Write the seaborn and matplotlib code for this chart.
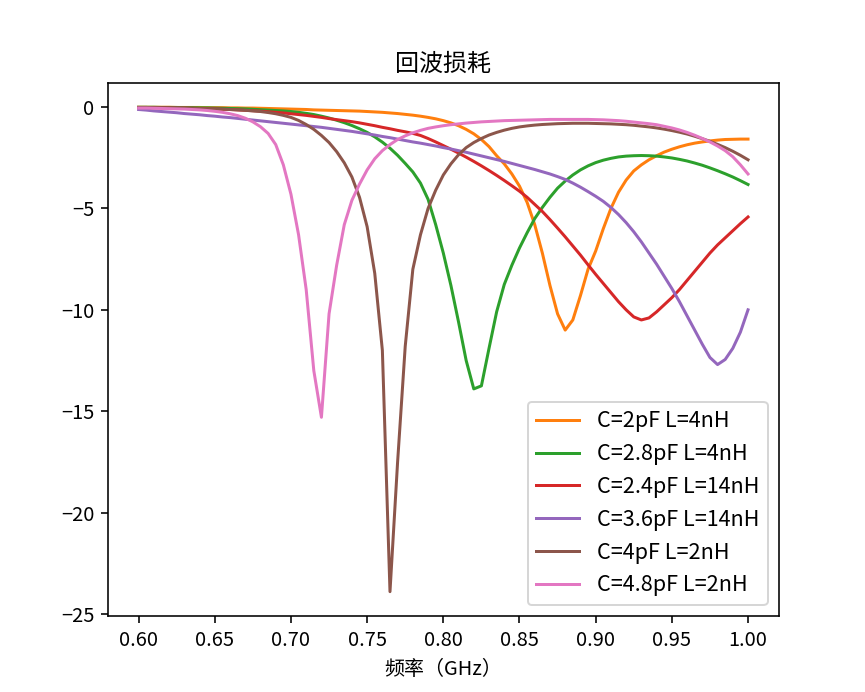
import numpy as np
import pandas as pd
import seaborn as sns
import matplotlib
matplotlib.use("Agg")
import matplotlib.pyplot as plt

plt.rcParams['font.family'] = ['Noto Sans CJK SC', 'DejaVu Sans']
plt.rcParams['axes.unicode_minus'] = True

# frequency grid (GHz), 0.005 step
freq = np.round(np.arange(0.600, 1.0001, 0.005), 3)

# return loss (dB)
s_c2_l4 = [
    -0.01, -0.01, -0.01, -0.01, -0.01, -0.02, -0.02, -0.02, -0.02, -0.03,
    -0.03, -0.03, -0.04, -0.04, -0.05, -0.05, -0.06, -0.07, -0.08, -0.09,
    -0.10, -0.11, -0.12, -0.14, -0.15, -0.16, -0.17, -0.18, -0.19, -0.20,
    -0.22, -0.24, -0.26, -0.29, -0.32, -0.36, -0.40, -0.45, -0.51, -0.58,
    -0.67, -0.78, -0.92, -1.10, -1.32, -1.60, -1.95, -2.40, -2.80, -3.30,
    -3.90, -4.70, -5.80, -7.20, -8.80, -10.20, -11.00, -10.50, -9.30, -8.00,
    -7.10, -6.00, -5.00, -4.20, -3.60, -3.15, -2.85, -2.60, -2.40, -2.22,
    -2.08, -1.96, -1.86, -1.78, -1.72, -1.67, -1.63, -1.60, -1.59, -1.58,
    -1.58]

s_c28_l4 = [
    -0.01, -0.01, -0.01, -0.02, -0.02, -0.02, -0.03, -0.03, -0.04, -0.04,
    -0.05, -0.06, -0.07, -0.08, -0.09, -0.11, -0.13, -0.15, -0.17, -0.19,
    -0.22, -0.26, -0.31, -0.37, -0.45, -0.54, -0.65, -0.77, -0.91, -1.07,
    -1.25, -1.47, -1.73, -2.03, -2.38, -2.78, -3.20, -3.75, -4.55, -5.80,
    -7.20, -8.80, -10.60, -12.50, -13.90, -13.75, -11.90, -10.10, -8.75, -7.80,
    -6.95, -6.20, -5.50, -4.95, -4.45, -4.00, -3.65, -3.35, -3.10, -2.90,
    -2.74, -2.62, -2.53, -2.46, -2.42, -2.40, -2.39, -2.40, -2.42, -2.46,
    -2.51, -2.58, -2.66, -2.76, -2.87, -3.00, -3.14, -3.29, -3.45, -3.63,
    -3.82]

s_c24_l14 = [
    -0.02, -0.02, -0.03, -0.03, -0.04, -0.05, -0.05, -0.06, -0.07, -0.08,
    -0.09, -0.11, -0.12, -0.14, -0.16, -0.18, -0.20, -0.23, -0.26, -0.29,
    -0.33, -0.37, -0.41, -0.46, -0.51, -0.57, -0.62, -0.67, -0.72, -0.78,
    -0.85, -0.92, -1.00, -1.07, -1.15, -1.22, -1.30, -1.40, -1.55, -1.72,
    -1.90, -2.08, -2.27, -2.47, -2.68, -2.90, -3.13, -3.37, -3.62, -3.88,
    -4.15, -4.45, -4.80, -5.15, -5.55, -5.97, -6.40, -6.85, -7.30, -7.78,
    -8.25, -8.70, -9.15, -9.60, -10.00, -10.35, -10.50, -10.40, -10.10, -9.75,
    -9.40, -9.00, -8.55, -8.10, -7.65, -7.20, -6.80, -6.45, -6.10, -5.75,
    -5.42]

s_c36_l14 = [
    -0.12, -0.15, -0.19, -0.22, -0.25, -0.28, -0.32, -0.35, -0.38, -0.42,
    -0.45, -0.49, -0.52, -0.56, -0.60, -0.64, -0.68, -0.72, -0.76, -0.80,
    -0.84, -0.88, -0.92, -0.96, -1.00, -1.05, -1.10, -1.15, -1.20, -1.26,
    -1.32, -1.38, -1.45, -1.51, -1.58, -1.65, -1.72, -1.78, -1.85, -1.92,
    -2.00, -2.07, -2.15, -2.23, -2.32, -2.41, -2.50, -2.59, -2.68, -2.78,
    -2.88, -2.98, -3.08, -3.19, -3.30, -3.43, -3.57, -3.75, -3.95, -4.17,
    -4.40, -4.65, -4.95, -5.30, -5.70, -6.15, -6.65, -7.20, -7.75, -8.35,
    -8.95, -9.60, -10.30, -11.00, -11.70, -12.35, -12.70, -12.45, -11.90, -11.10,
    -10.00]

s_c4_l2 = [
    -0.02, -0.02, -0.03, -0.03, -0.04, -0.04, -0.05, -0.06, -0.07, -0.08,
    -0.09, -0.10, -0.12, -0.14, -0.16, -0.19, -0.22, -0.27, -0.33, -0.41,
    -0.51, -0.66, -0.86, -1.10, -1.40, -1.75, -2.20, -2.75, -3.45, -4.45,
    -5.90, -8.20, -12.00, -23.90, -17.50, -11.80, -8.00, -6.30, -5.00, -4.10,
    -3.35, -2.80, -2.35, -2.00, -1.75, -1.55, -1.38, -1.25, -1.14, -1.05,
    -0.98, -0.93, -0.89, -0.86, -0.84, -0.82, -0.81, -0.80, -0.80, -0.80,
    -0.81, -0.82, -0.83, -0.85, -0.87, -0.90, -0.94, -0.98, -1.03, -1.09,
    -1.16, -1.24, -1.33, -1.44, -1.56, -1.69, -1.84, -2.00, -2.18, -2.38,
    -2.60]

s_c48_l2 = [
    -0.05, -0.05, -0.06, -0.07, -0.08, -0.09, -0.10, -0.12, -0.14, -0.17,
    -0.21, -0.26, -0.33, -0.42, -0.55, -0.73, -0.97, -1.30, -1.85, -2.85,
    -4.30, -6.30, -9.00, -13.00, -15.30, -10.20, -7.80, -5.80, -4.60, -3.80,
    -3.10, -2.55, -2.15, -1.85, -1.60, -1.42, -1.27, -1.15, -1.05, -0.98,
    -0.92, -0.87, -0.83, -0.79, -0.76, -0.73, -0.71, -0.69, -0.67, -0.66,
    -0.65, -0.64, -0.63, -0.62, -0.61, -0.61, -0.61, -0.61, -0.61, -0.61,
    -0.62, -0.63, -0.65, -0.67, -0.70, -0.74, -0.78, -0.82, -0.87, -0.95,
    -1.03, -1.13, -1.25, -1.39, -1.55, -1.72, -1.92, -2.15, -2.45, -2.85,
    -3.30]

labels = ['C=2pF L=4nH', 'C=2.8pF L=4nH', 'C=2.4pF L=14nH',
          'C=3.6pF L=14nH', 'C=4pF L=2nH', 'C=4.8pF L=2nH']
series = [s_c2_l4, s_c28_l4, s_c24_l14, s_c36_l14, s_c4_l2, s_c48_l2]
colors = ['#ff7f0e', '#2ca02c', '#d62728', '#9467bd', '#8c564b', '#e377c2']

fig, ax = plt.subplots(figsize=(865 / 144, 692 / 144), dpi=144)

for vals, lab, col in zip(series, labels, colors):
    df = pd.DataFrame({'f': freq, 's11': vals})
    sns.lineplot(data=df, x='f', y='s11', color=col, label=lab, linewidth=1.5, ax=ax)

ax.set_title('回波损耗')
ax.set_xlabel('频率（GHz）')
ax.set_ylabel('')
ax.set_xticks(np.round(np.arange(0.60, 1.001, 0.05), 2))
ax.set_xticklabels([f'{v:.2f}' for v in np.arange(0.60, 1.001, 0.05)])
ax.legend(loc='lower right', fontsize=10.8)

fig.savefig('out.png', dpi=144)
